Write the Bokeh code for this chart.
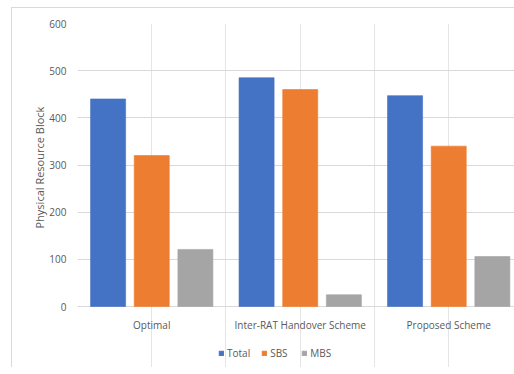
from bokeh.plotting import figure
from bokeh.models import (ColumnDataSource, Range1d, FixedTicker, Legend, LegendItem, Title)
from bokeh.core.properties import value
from bokeh.transform import dodge
from bokeh.embed import file_html
from bokeh.resources import INLINE

# Data
schemes = ["Optimal", "Inter-RAT Handover Scheme", "Proposed Scheme"]
total = [440, 485, 447]
sbs = [320, 460, 340]
mbs = [121, 25, 106]
y_ticks = [0, 100, 200, 300, 400, 500, 600]

series_names = ["Total", "SBS", "MBS"]
series_colors = ["#4472C4", "#ED7D31", "#A5A5A5"]

pos = [i + 0.5 for i in range(len(schemes))]
source = ColumnDataSource(dict(x=pos, Total=total, SBS=sbs, MBS=mbs))
cat_source = ColumnDataSource(dict(x=pos, y=[0] * len(pos), name=schemes))

TEXT = "#595959"
FONT = "Open Sans"

# The frame reaches down to the bottom so the category labels and the
# legend can sit underneath the zero line.
p = figure(frame_width=437, frame_height=344,
           output_backend="svg", toolbar_location=None,
           x_range=Range1d(0, 2.943), y_range=Range1d(-129.3, 600),
           x_axis_location=None,
           min_border_left=65, min_border_right=0, min_border_top=15,
           min_border_bottom=0, margin=(7, 0, 0, 11),
           styles={"border-left": "1px solid #d9d9d9", "border-top": "1px solid #d9d9d9"})
p.outline_line_color = None

offsets = [-0.294, 0.0, 0.294]
renderers = []
for name, color, off in zip(series_names, series_colors, offsets):
    r = p.vbar(x=dodge("x", off, range=p.x_range), top=name, width=0.236,
               bottom=0, source=source, fill_color=color,
               line_color=color, line_alpha=0.6)
    renderers.append((name, r))

# Category labels under the zero line
p.text(x="x", y="y", text="name", source=cat_source, y_offset=18,
       text_align="center", text_baseline="middle",
       text_font=value(FONT), text_font_size="10px", text_color=TEXT)

# Value axis
p.yaxis.ticker = FixedTicker(ticks=y_ticks)
p.yaxis.axis_line_color = None
p.yaxis.major_tick_line_color = None
p.yaxis.minor_tick_line_color = None
p.yaxis.major_label_text_color = TEXT
p.yaxis.major_label_text_font = FONT
p.yaxis.major_label_text_font_size = "10px"
p.yaxis.major_label_standoff = 5

p.ygrid.grid_line_color = "#d9d9d9"
p.ygrid.ticker = FixedTicker(ticks=y_ticks)

# Axis title, set beside the 0-600 span
p.add_layout(Title(text="Physical Resource Block", align="left", offset=139,
                   text_font=FONT, text_font_size="11px", text_font_style="normal",
                   text_color=TEXT, standoff=0), "left")

legend = Legend(items=[LegendItem(label=n, renderers=[r]) for n, r in renderers],
                orientation="horizontal", location=(141, 7),
                glyph_width=6, glyph_height=6, label_text_font=FONT,
                label_text_font_size="10px", label_text_color=TEXT,
                spacing=11, label_standoff=3, border_line_color=None,
                background_fill_alpha=0, padding=0, margin=0,
                label_height=10)
p.add_layout(legend)

open("out.html", "w").write(file_html(p, INLINE))
